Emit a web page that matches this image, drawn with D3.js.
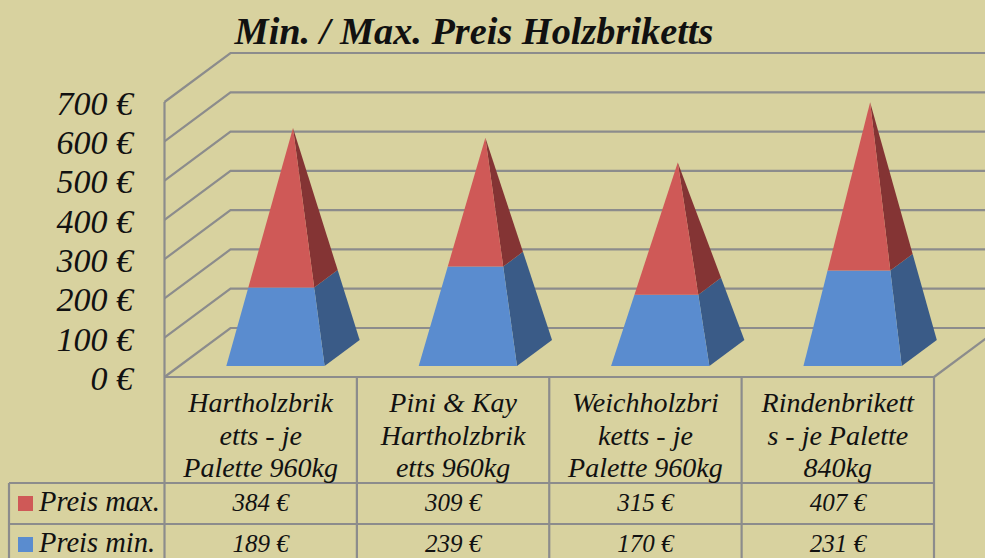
<!DOCTYPE html>
<html>
<head>
<meta charset="utf-8">
<style>
  body { margin: 0; background: #d8d29f; overflow: hidden; }
  text { font-family: "Liberation Serif", serif; font-style: italic; fill: #111; }
</style>
<script src="https://cdnjs.cloudflare.com/ajax/libs/d3/7.8.5/d3.min.js"></script>
</head>
<body>
<div id="container"></div>
<script>
/* DATA */
const categories = ["Hartholzbriketts", "Pini & Kay", "Weichholzbriketts", "Rindenbriketts"];
const categoryLines = [
  ["Hartholzbrik", "etts - je", "Palette 960kg"],
  ["Pini & Kay", "Hartholzbrik", "etts 960kg"],
  ["Weichholzbri", "ketts - je", "Palette 960kg"],
  ["Rindenbrikett", "s - je Palette", "840kg"]
];
const preisMax = [384, 309, 315, 407];
const preisMin = [189, 239, 170, 231];
const yTicks = [0, 100, 200, 300, 400, 500, 600, 700];

/* CONSTANTS */
const width = 985, height = 558;
const frontColor = { min: "#5a8ccf", max: "#cf5957" };
const sideColor = { min: "#3a5b87", max: "#843434" };
const gridColor = "#8c8c8c";
const depthX = 66, depthY = 49;
const baseFront = 0.224, baseBack = 0.755, halfWidth = 49.15;
const rowTop = 483, rowMid = 524;

/* SCALES */
const xScale = d3.scaleBand().domain(categories).range([164.5, 934]);
const yScale = d3.scaleLinear().domain([0, 700]).range([377, 102]);
const depthXScale = d3.scaleLinear().domain([0, 1]).range([0, depthX]);
const depthYScale = d3.scaleLinear().domain([0, 1]).range([0, -depthY]);

const svg = d3.select("#container").append("svg")
  .attr("width", width)
  .attr("height", height)
  .style("display", "block")
  .style("background-color", "#d8d29f");

/* TITLE */
svg.append("text")
  .attr("x", 474).attr("y", 44)
  .attr("text-anchor", "middle")
  .style("font-size", "38.3px").style("font-weight", "bold")
  .text("Min. / Max. Preis Holzbriketts");

/* WALLS */
const grid = svg.append("g").attr("stroke", gridColor).attr("stroke-width", 2.2).attr("fill", "none");
yTicks.forEach(v => {
  const y = yScale(v);
  const path = d3.line()([
    [xScale.range()[0], y],
    [xScale.range()[0] + depthXScale(1), y + depthYScale(1)],
    [xScale.range()[1] + depthXScale(1), y + depthYScale(1)]
  ]);
  grid.append("path").attr("d", path);
});
grid.append("path").attr("d", d3.line()([
  [xScale.range()[0], yScale(700)], [xScale.range()[0], yScale(0)]
]));
grid.append("path").attr("d", d3.line()([
  [xScale.range()[1], yScale(0)],
  [xScale.range()[1] + depthXScale(1), yScale(0) + depthYScale(1)]
]));

/* Y AXIS */
const yAxis = d3.axisLeft(yScale).tickValues(yTicks).tickFormat(d => `${d} €`).tickSize(0).tickPadding(0);
const yG = svg.append("g").attr("transform", "translate(133,1.5)").call(yAxis);
yG.select(".domain").remove();
yG.selectAll("text").style("font-size", "34px").style("font-family", null).attr("font-family", null);

/* PYRAMIDS */
const rows = categories.map((c, i) => ({ cat: c, min: preisMin[i], max: preisMax[i] }));
const stacked = d3.stack().keys(["min", "max"])(rows);

function point(cat, u, d, v) {
  return [
    xScale(cat) + xScale.bandwidth() / 2 + u * halfWidth + depthXScale(d),
    yScale(v) + depthYScale(d)
  ];
}
// a point on the pyramid edge that starts at corner (u, d), at value v
function edge(row, u, d, v) {
  const total = row.min + row.max;
  const t = v / total;
  const apexD = (baseFront + baseBack) / 2;
  return point(row.cat, u * (1 - t), d + (apexD - d) * t, v);
}
const line = d3.line();

stacked.forEach(layer => {
  const g = svg.append("g");
  layer.forEach(s => {
    const row = s.data, v0 = s[0], v1 = s[1];
    g.append("path")
      .attr("fill", sideColor[layer.key])
      .attr("d", line([
        edge(row, 1, baseFront, v0), edge(row, 1, baseBack, v0),
        edge(row, 1, baseBack, v1), edge(row, 1, baseFront, v1)
      ]) + "Z");
    g.append("path")
      .attr("fill", frontColor[layer.key])
      .attr("d", line([
        edge(row, -1, baseFront, v0), edge(row, 1, baseFront, v0),
        edge(row, 1, baseFront, v1), edge(row, -1, baseFront, v1)
      ]) + "Z");
  });
});

/* TABLE */
const table = svg.append("g").attr("stroke", gridColor).attr("stroke-width", 2.2).attr("fill", "none");
const xEdges = categories.map(c => xScale(c)).concat(xScale.range()[1]);
xEdges.forEach(x => table.append("line").attr("x1", x).attr("x2", x).attr("y1", yScale(0)).attr("y2", height));
table.append("line").attr("x1", xEdges[0]).attr("x2", xEdges[4]).attr("y1", yScale(0)).attr("y2", yScale(0));
[rowTop, rowMid].forEach(y => table.append("line").attr("x1", 9).attr("x2", xEdges[4]).attr("y1", y).attr("y2", y));
table.append("line").attr("x1", 9).attr("x2", 9).attr("y1", rowTop).attr("y2", height);

const catText = svg.append("g").attr("text-anchor", "middle").style("font-size", "28px");
categories.forEach((c, i) => {
  categoryLines[i].forEach((t, j) => {
    catText.append("text")
      .attr("x", xScale(c) + xScale.bandwidth() / 2)
      .attr("y", 412 + j * 32.5)
      .text(t);
  });
});

const valueRows = [
  { label: "Preis max.", values: preisMax, y: 511, color: frontColor.max },
  { label: "Preis min.", values: preisMin, y: 552, color: frontColor.min }
];
valueRows.forEach(r => {
  svg.append("rect").attr("x", 18).attr("y", r.y - 15).attr("width", 15).attr("height", 15).attr("fill", r.color);
  svg.append("text").attr("x", 39).attr("y", r.y).style("font-size", "28.5px").text(r.label);
  categories.forEach((c, i) => {
    svg.append("text")
      .attr("x", xScale(c) + xScale.bandwidth() / 2)
      .attr("y", r.y)
      .attr("text-anchor", "middle")
      .style("font-size", "25px")
      .text(`${r.values[i]} €`);
  });
});
</script>
</body>
</html>
